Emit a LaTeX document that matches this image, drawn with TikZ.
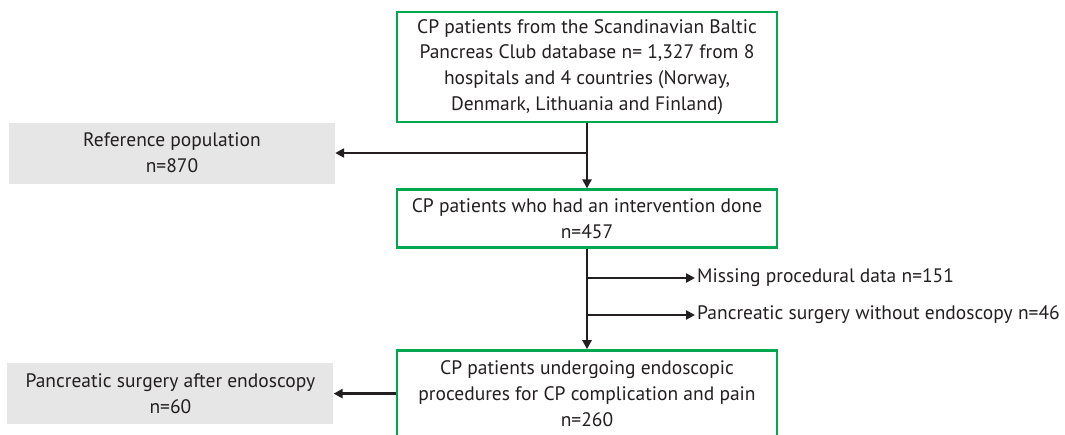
\documentclass[tikz,border=0pt]{standalone}
\usepackage{fontspec}
\setmainfont{PT Sans}
\usetikzlibrary{positioning,arrows.meta}
\definecolor{frame}{RGB}{0,166,80}
\definecolor{shade}{HTML}{E6E6E6}
\definecolor{ink}{HTML}{231F20}

\begin{document}
\begin{tikzpicture}[
    x=1pt, y=1pt,
    node distance=65pt and 62pt,
    mainbox/.style={draw=frame, line width=2.8pt, fill=white, minimum width=380pt, align=center, text=ink, font=\fontsize{19.5}{25.7}\selectfont},
    sidebox/.style={fill=shade, minimum width=326pt, minimum height=61pt, align=center, text=ink, font=\fontsize{19.5}{25.7}\selectfont},
    excl/.style={anchor=west, inner sep=2pt, text=ink, font=\fontsize{19.5}{25.7}\selectfont},
    flow/.style={-{Triangle[length=9pt,width=9pt]}, line width=2.6pt, ink}
]
\useasboundingbox (0,0) rectangle (1065,-434);

\node[mainbox, minimum height=110pt] (top) at (587,-67) {CP patients from the Scandinavian Baltic\\Pancreas Club database n= 1,327 from 8\\hospitals and 4 countries (Norway,\\Denmark, Lithuania and Finland)};
\node[mainbox, minimum height=58pt, below=65pt of top] (interv) {CP patients who had an intervention done\\n=457};
\node[mainbox, minimum height=86pt, below=100pt of interv] (endo) {CP patients undergoing endoscopic\\procedures for CP complication and pain\\n=260};

\node[sidebox] (refpop) at (172,-153) {Reference population\\n=870};
\node[sidebox, left=of endo] (after) {Pancreatic surgery after endoscopy\\n=60};

\node[excl] (missing) at (695,-278) {Missing procedural data n=151};
\node[excl] (without) at (695,-315) {Pancreatic surgery without endoscopy n=46};

\draw[flow] (top) -- (interv);
\draw[flow] (top.south |- refpop.east) -- (refpop.east);
\draw[flow] (interv) -- (endo);
\draw[flow] (interv.south |- missing.west) -- (missing.west);
\draw[flow] (interv.south |- without.west) -- (without.west);
\draw[flow] (endo.west) -- (after.east);

\end{tikzpicture}
\end{document}
